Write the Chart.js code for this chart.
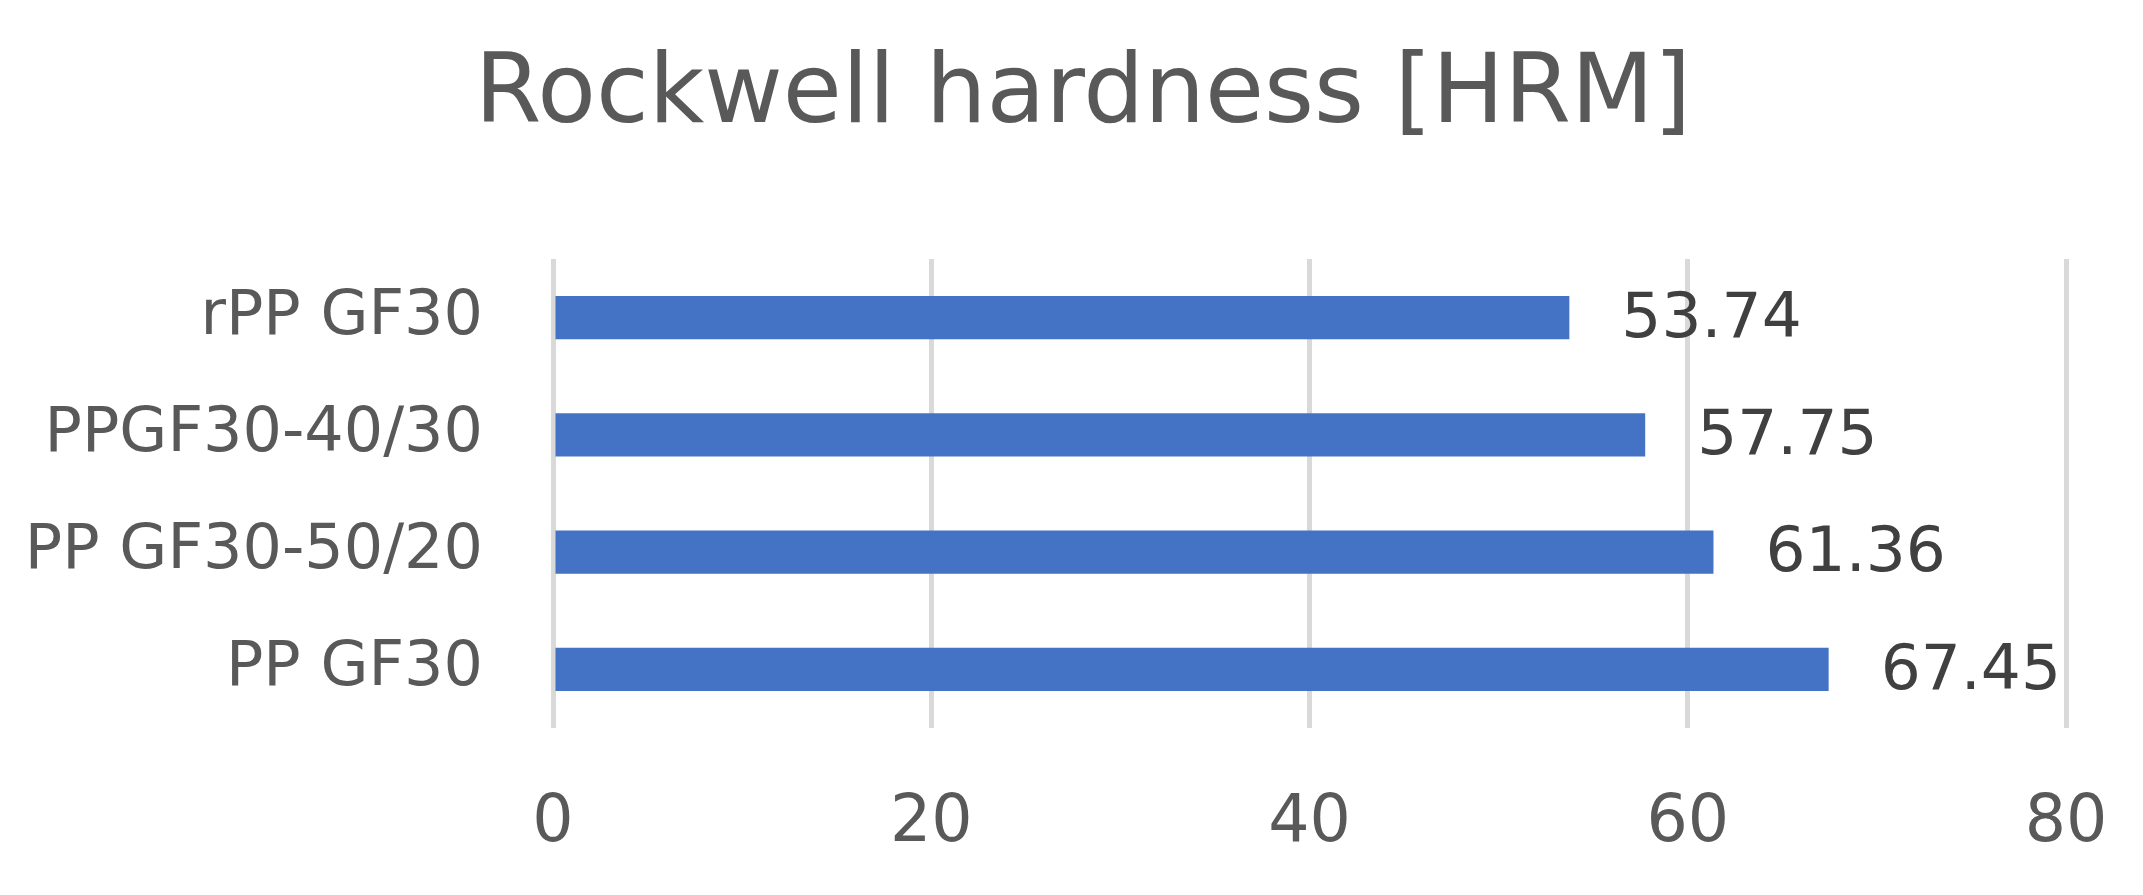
<!DOCTYPE html>
<html>
<head>
<meta charset="utf-8">
<script src="https://cdn.jsdelivr.net/npm/chart.js@4.4.0/dist/chart.umd.min.js"></script>
<style>
  html, body { margin: 0; padding: 0; background: #ffffff; }
  #wrap { width: 2143px; height: 895px; position: relative; }
</style>
</head>
<body>
<div id="wrap"><canvas id="hardnessChart" width="2143" height="895"></canvas></div>
<script>
// --- данные ---
const chartTitle = 'Rockwell hardness [HRM]';
const categories = ['rPP GF30', 'PPGF30-40/30', 'PP GF30-50/20', 'PP GF30'];
const hardnessValues = [53.74, 57.75, 61.36, 67.45];
const xTicks = [0, 20, 40, 60, 80];

const FONT = '"DejaVu Sans", sans-serif';

// подписи значений справа от столбцов
const valueLabels = {
    id: 'valueLabels',
    afterDatasetsDraw(chart) {
        const ctx = chart.ctx;
        const meta = chart.getDatasetMeta(0);
        ctx.save();
        ctx.font = '63px ' + FONT;
        ctx.fillStyle = '#404040';
        ctx.textAlign = 'left';
        ctx.textBaseline = 'middle';
        meta.data.forEach((bar, i) => {
            ctx.fillText(hardnessValues[i].toFixed(2), bar.x + 52, bar.y + 3);
        });
        ctx.restore();
    }
};

// заголовок — свой плагин, чтобы центр совпадал с оригиналом (чуть правее центра холста)
const titleText = {
    id: 'titleText',
    afterDraw(chart) {
        const ctx = chart.ctx;
        ctx.save();
        ctx.font = '96px ' + FONT;
        ctx.fillStyle = '#595959';
        ctx.textAlign = 'center';
        ctx.textBaseline = 'middle';
        ctx.fillText(chartTitle, 1083, 97);
        ctx.restore();
    }
};

const ctx = document.getElementById('hardnessChart').getContext('2d');
new Chart(ctx, {
    type: 'bar',
    data: {
        labels: categories,
        datasets: [{
            data: hardnessValues,
            backgroundColor: '#4472c4',
            borderWidth: 0,
            categoryPercentage: 1,
            barPercentage: 0.37
        }]
    },
    options: {
        indexAxis: 'y',
        responsive: false, animation: false,
        layout: { padding: { left: 0, right: 77, top: 259, bottom: 0 } },
        scales: {
            x: {
                min: 0, max: 80,
                afterBuildTicks: axis => { axis.ticks = xTicks.map(v => ({ value: v })); },
                afterFit: axis => { axis.height = 167; axis.paddingLeft = 0; axis.paddingRight = 0; },
                grid: { color: '#d9d9d9', lineWidth: 5, drawTicks: false },
                border: { display: false },
                ticks: { color: '#595959', font: { family: FONT, size: 65 }, padding: 57 }
            },
            y: {
                afterFit: axis => { axis.width = 553; axis.paddingTop = 0; axis.paddingBottom = 0; },
                grid: { display: false, drawTicks: false },
                border: { display: false },
                ticks: { color: '#595959', font: { family: FONT, size: 62 }, padding: 70 }
            }
        },
        plugins: {
            legend: { display: false },
            tooltip: { enabled: false },
            title: { display: false }
        }
    },
    plugins: [valueLabels, titleText]
});
</script>
</body>
</html>
